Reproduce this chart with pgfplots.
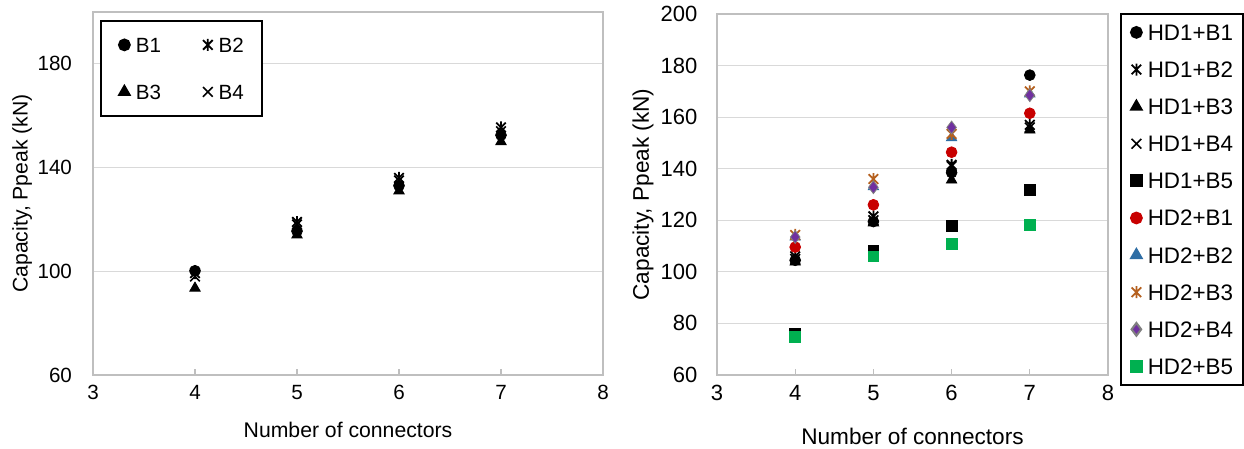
\documentclass[border=0pt]{standalone}
\usepackage{pgfplots}
\pgfplotsset{compat=1.18}
\usepackage{fontspec}
\setmainfont{Liberation Sans}
\definecolor{gridgray}{HTML}{D9D9D9}
\definecolor{axisgray}{HTML}{BFBFBF}
\definecolor{hdred}{HTML}{C80000}
\definecolor{hdblue}{HTML}{2E6DA4}
\definecolor{hdorange}{HTML}{B5601E}
\definecolor{hdpurple}{HTML}{7030A0}
\definecolor{hdgreen}{HTML}{00B050}

\pgfdeclareplotmark{xstar}{%
  \pgfpathmoveto{\pgfqpoint{-0.8\pgfplotmarksize}{-0.8\pgfplotmarksize}}%
  \pgfpathlineto{\pgfqpoint{0.8\pgfplotmarksize}{0.8\pgfplotmarksize}}%
  \pgfpathmoveto{\pgfqpoint{-0.8\pgfplotmarksize}{0.8\pgfplotmarksize}}%
  \pgfpathlineto{\pgfqpoint{0.8\pgfplotmarksize}{-0.8\pgfplotmarksize}}%
  \pgfpathmoveto{\pgfqpoint{0pt}{-\pgfplotmarksize}}%
  \pgfpathlineto{\pgfqpoint{0pt}{\pgfplotmarksize}}%
  \pgfusepathqstroke}
\pgfdeclareplotmark{bigx}{%
  \pgfpathmoveto{\pgfqpoint{-0.9\pgfplotmarksize}{-0.9\pgfplotmarksize}}%
  \pgfpathlineto{\pgfqpoint{0.9\pgfplotmarksize}{0.9\pgfplotmarksize}}%
  \pgfpathmoveto{\pgfqpoint{-0.9\pgfplotmarksize}{0.9\pgfplotmarksize}}%
  \pgfpathlineto{\pgfqpoint{0.9\pgfplotmarksize}{-0.9\pgfplotmarksize}}%
  \pgfusepathqstroke}

\pgfplotsset{
  excel/.style={
    scale only axis,
    /pgf/number format/assume math mode=true,
    axis line style={axisgray, line width=0.6pt},
    ymajorgrids,
    grid style={gridgray, line width=0.6pt},
    xtick align=inside,
    xtick pos=bottom, ytick pos=left,
    ytick style={draw=none},
    xtick style={axisgray, line width=0.6pt},
    major tick length=3pt,
    legend image code/.code={\draw[mark repeat=2,mark phase=2,##1] plot coordinates {(0pt,0pt)(3pt,0pt)(6pt,0pt)};},
  },
  pC/.style={only marks, mark=*, mark size=2.7pt},
  pS/.style={only marks, mark=xstar, mark size=3pt, mark options={line width=0.9pt}},
  pT/.style={only marks, mark=triangle*, mark size=3pt},
  pX/.style={only marks, mark=bigx, mark size=2.7pt, mark options={line width=0.8pt}},
  pQ/.style={only marks, mark=square*, mark size=2.7pt},
  pD/.style={only marks, mark=diamond*, mark size=3.2pt},
}

\begin{document}
\begin{tikzpicture}
\useasboundingbox (0,0) rectangle (622pt,224.5pt);

% ---------------- left chart ----------------
\begin{axis}[excel,
  at={(46.5pt,37pt)}, anchor=south west,
  width=255pt, height=181.5pt,
  xmin=3, xmax=8, ymin=60, ymax=200,
  xtick={3,4,5,6,7,8}, ytick={60,100,140,180},
  ticklabel style={font=\fontsize{10.3}{12}\selectfont},
  xticklabel style={yshift=-1.6pt},
  yticklabel style={xshift=-7pt},
  xlabel={Number of connectors},
  ylabel={Capacity, Ppeak (kN)},
  label style={font=\fontsize{10.6}{12}\selectfont},
  xlabel style={at={(axis description cs:0.5,-0.152)}, anchor=center},
  ylabel style={at={(axis description cs:-0.139,0.5)}, anchor=center},
  legend columns=2,
  legend style={at={(axis description cs:0.0137,0.978)}, anchor=north west,
    draw=black, line width=1pt, inner xsep=9pt, inner ysep=8.3pt,
    font=\fontsize{10.3}{12}\selectfont,
    cells={anchor=west},
    nodes={inner sep=0pt, text height=7.3pt, text depth=0pt},
    row sep=16.2pt, column sep=3pt,
    /tikz/every even column/.append style={column sep=21pt}},
]
\addplot[pC, black] coordinates {(4,100.2) (5,115.5) (6,133) (7,152.5)};
\addlegendentry{B1}
\addplot[pS, black] coordinates {(4,99.3) (5,119) (6,136) (7,155.5)};
\addlegendentry{B2}
\addplot[pT, black] coordinates {(4,93.5) (5,114) (6,131) (7,150)};
\addlegendentry{B3}
\addplot[pX, black] coordinates {(4,98) (5,118) (6,135) (7,154)};
\addlegendentry{B4}
\end{axis}

% ---------------- right chart ----------------
\begin{axis}[excel,
  at={(358.5pt,37pt)}, anchor=south west,
  width=195.5pt, height=180.5pt,
  xmin=3, xmax=8, ymin=60, ymax=200,
  xtick={3,4,5,6,7,8}, ytick={60,80,...,200},
  ticklabel style={font=\fontsize{11}{13}\selectfont},
  xticklabel style={yshift=-1.6pt},
  yticklabel style={xshift=-6.3pt},
  xlabel={Number of connectors},
  ylabel={Capacity, Ppeak (kN)},
  label style={font=\fontsize{11.3}{13}\selectfont},
  xlabel style={at={(axis description cs:0.5,-0.169)}, anchor=center},
  ylabel style={at={(axis description cs:-0.189,0.5)}, anchor=center},
  legend style={at={(axis description cs:1.0307,1.0028)}, anchor=north west,
    draw=black, line width=1pt, inner xsep=5pt, inner ysep=5.2pt,
    font=\fontsize{11.2}{13}\selectfont,
    cells={anchor=west},
    nodes={inner sep=0pt, text height=8pt, text depth=0pt},
    row sep=10.56pt, column sep=3pt},
]
\addplot[pC, black] coordinates {(4,104.5) (5,119.5) (6,138.5) (7,176.3)};
\addlegendentry{HD1+B1}
\addplot[pS, black] coordinates {(4,106) (5,121.5) (6,141.5) (7,157)};
\addlegendentry{HD1+B2}
\addplot[pT, black] coordinates {(4,103.8) (5,119) (6,135.6) (7,155)};
\addlegendentry{HD1+B3}
\addplot[pX, black] coordinates {(4,105) (5,120) (6,141) (7,156)};
\addlegendentry{HD1+B4}
\addplot[pQ, black] coordinates {(4,76) (5,108) (6,117.8) (7,131.7)};
\addlegendentry{HD1+B5}
\addplot[pC, hdred] coordinates {(4,109.6) (5,126) (6,146.4) (7,161.5)};
\addlegendentry{HD2+B1}
\addplot[pT, hdblue] coordinates {(4,113.5) (5,133) (6,152) (7,169)};
\addlegendentry{HD2+B2}
\addplot[pS, hdorange] coordinates {(4,114.3) (5,136) (6,153.5) (7,170)};
\addlegendentry{HD2+B3}
\addplot[pD, draw=gray, fill=hdpurple, mark options={draw=gray, fill=hdpurple}] coordinates {(4,113.5) (5,132.8) (6,156) (7,168.5)};
\addlegendentry{HD2+B4}
\addplot[pQ, hdgreen] coordinates {(4,74.7) (5,106) (6,110.8) (7,118.1)};
\addlegendentry{HD2+B5}
\end{axis}
\end{tikzpicture}
\end{document}
